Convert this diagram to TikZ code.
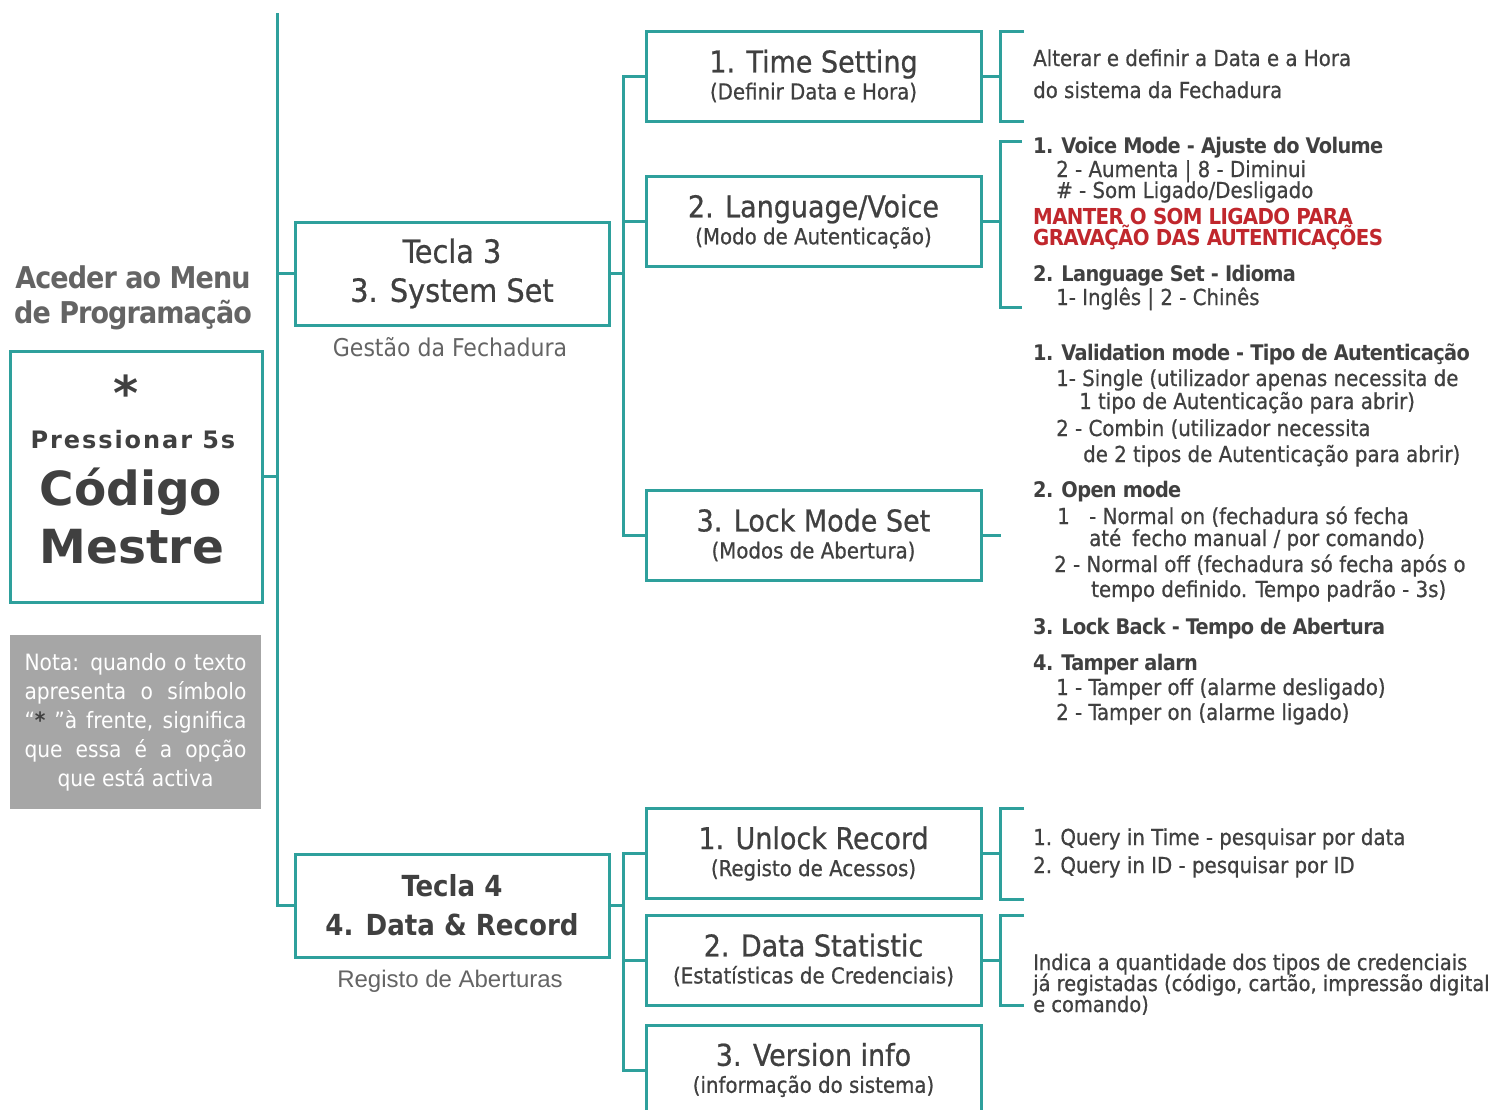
\documentclass[tikz,border=0pt]{standalone}
\usepackage{fontspec}
\setmainfont{DejaVu Sans Condensed}
\newfontfamily\medfont[FakeBold=0.7]{DejaVu Sans Condensed}
\newfontfamily\verdana{DejaVu Sans}
\newfontfamily\verdanasp[LetterSpace=8]{DejaVu Sans}
\newfontfamily\tight[LetterSpace=-3]{DejaVu Sans Condensed}
\newfontfamily\arial{Liberation Sans}
\usetikzlibrary{positioning}

\newcommand{\boxmain}{\fontsize{30}{30}\selectfont}
\newcommand{\boxsub}{\fontsize{22}{26}\selectfont}

\begin{document}
\begin{tikzpicture}[x=1pt,y=-1pt]
    \definecolor{myteal}{RGB}{46,160,156}
    \definecolor{mygray}{RGB}{64,64,64}
    \definecolor{mylight}{RGB}{100,100,100}
    \definecolor{mynote}{RGB}{166,166,166}
    \definecolor{myred}{RGB}{192,39,45}

    \tikzstyle{link}=[draw=myteal,line width=3pt]  % 连接线
    \tikzstyle{keybox}=[rectangle,draw=myteal,line width=3pt,minimum width=314pt,minimum height=103pt,inner sep=0pt,align=center,text=mygray,font=\medfont\fontsize{32}{39}\selectfont]  % 按键框
    \tikzstyle{subbox}=[rectangle,draw=myteal,line width=3pt,minimum width=335pt,minimum height=90pt,inner sep=0pt,align=center,text=mygray,font=\medfont\fontsize{30}{27}\selectfont]  % 子菜单框
    \tikzstyle{desc}=[anchor=base west,inner sep=0pt,text=mygray,font=\medfont\fontsize{22}{22}\selectfont]  % 说明文字
    \tikzstyle{head}=[anchor=base west,inner sep=0pt,text=mygray,font=\tight\fontsize{21.5}{21.5}\selectfont\bfseries]  % 说明标题
    \tikzstyle{alert}=[anchor=base west,inner sep=0pt,text=myred,font=\tight\fontsize{22}{22}\selectfont\bfseries]

    \useasboundingbox (0,0) rectangle (1497,1109);

    % 左侧
    \node[text=mylight,align=center,font=\tight\fontsize{30}{35}\selectfont\bfseries] (title) at (133,298) {Aceder ao Menu\\de Programação};
    \node[rectangle,draw=myteal,line width=3pt,minimum width=252pt,minimum height=251pt] (mestre) at (136,476.5) {};
    \node[text=mygray,font=\verdana\bfseries\fontsize{48}{48}\selectfont] (star) at (126,393) {*};
    \node[text=mygray,font=\verdanasp\bfseries\fontsize{24}{24}\selectfont,anchor=base] (press) at (133,448) {Pressionar 5s};
    \node[text=mygray,font=\verdana\bfseries\fontsize{47}{47}\selectfont,anchor=base] (codigo) at (131,505) {Código};
    \node[text=mygray,font=\verdana\bfseries\fontsize{47}{47}\selectfont,anchor=base] (mestretxt) at (132,563) {Mestre};
    \node[fill=mynote,minimum width=251pt,minimum height=174pt,inner sep=0pt,text=white,align=center,font=\fontsize{22.5}{29}\selectfont] (nota) at (135.5,722) {\makebox[222pt][s]{Nota: quando o texto}\\\makebox[222pt][s]{apresenta o símbolo}\\\makebox[222pt][s]{“\textcolor{mygray}{\bfseries*} ”à frente, significa}\\\makebox[222pt][s]{que essa é a opção}\\que está activa};

    % 按键
    \node[keybox] (tecla3) at (452,273.5) {Tecla 3\\3. System Set};
    \node[text=mylight,font=\fontsize{24.5}{24.5}\selectfont] (gestao) at (450,347) {Gestão da Fechadura};
    \node[keybox,font=\fontsize{29}{39}\selectfont\bfseries] (tecla4) at (452,905.5) {Tecla 4\\4. Data \& Record};
    \node[text=mylight,font=\arial\fontsize{24}{24}\selectfont] (registo) at (450,981) {Registo de Aberturas};

    % 子菜单
    \node[subbox] (time) at (813.5,76) {\boxmain 1. Time Setting\\\boxsub (Definir Data e Hora)};
    \node[subbox] (voice) at (813.5,221.5) {\boxmain 2. Language/Voice\\\boxsub (Modo de Autenticação)};
    \node[subbox] (lock) at (813.5,535) {\boxmain 3. Lock Mode Set\\\boxsub (Modos de Abertura)};
    \node[subbox] (unlock) at (813.5,853.5) {\boxmain 1. Unlock Record\\\boxsub (Registo de Acessos)};
    \node[subbox] (stat) at (813.5,960) {\boxmain 2. Data Statistic\\\boxsub (Estatísticas de Credenciais)};
    \node[subbox] (version) at (813.5,1070) {\boxmain 3. Version info\\\boxsub (informação do sistema)};

    % 说明
    \node[desc] (t1) at (1033,66) {Alterar e definir a Data e a Hora};
    \node[desc] (t2) at (1033,98) {do sistema da Fechadura};

    \node[head] (v1) at (1033,153) {1. Voice Mode - Ajuste do Volume};
    \node[desc] (v2) at (1056,177) {2 - Aumenta | 8 - Diminui};
    \node[desc] (v3) at (1056,198) {\# - Som Ligado/Desligado};
    \node[alert] (v4) at (1033,224) {MANTER O SOM LIGADO PARA};
    \node[alert] (v5) at (1033,245) {GRAVAÇÃO DAS AUTENTICAÇÕES};
    \node[head] (v6) at (1033,281) {2. Language Set - Idioma};
    \node[desc] (v7) at (1056,305) {1- Inglês | 2 - Chinês};

    \node[head] (m1) at (1033,360) {1. Validation mode - Tipo de Autenticação};
    \node[desc] (m2) at (1056,386) {1- Single (utilizador apenas necessita de};
    \node[desc] (m3) at (1079,409) {1 tipo de Autenticação para abrir)};
    \node[desc] (m4) at (1056,436) {2 - Combin (utilizador necessita};
    \node[desc] (m5) at (1083,462) {de 2 tipos de Autenticação para abrir)};
    \node[head] (m6) at (1033,497) {2. Open mode};
    \node[desc] (m7) at (1057,524) {1};
    \node[desc] (m8) at (1089,524) {- Normal on (fechadura só fecha};
    \node[desc] (m9) at (1089,546) {até\enspace fecho manual / por comando)};
    \node[desc] (m10) at (1054,572) {2 - Normal off (fechadura só fecha após o};
    \node[desc] (m11) at (1091,597) {tempo definido. Tempo padrão - 3s)};
    \node[head] (m12) at (1033,634) {3. Lock Back - Tempo de Abertura};
    \node[head] (m13) at (1033,670) {4. Tamper alarn};
    \node[desc] (m14) at (1056,695) {1 - Tamper off (alarme desligado)};
    \node[desc] (m15) at (1056,720) {2 - Tamper on (alarme ligado)};

    \node[desc] (q1) at (1033,845) {1. Query in Time - pesquisar por data};
    \node[desc] (q2) at (1033,873) {2. Query in ID - pesquisar por ID};
    \node[desc,font=\medfont\fontsize{21.6}{21.6}\selectfont] (s1) at (1033,970) {Indica a quantidade dos tipos de credenciais};
    \node[desc,font=\medfont\fontsize{21.6}{21.6}\selectfont] (s2) at (1033,991) {já registadas (código, cartão, impressão digital};
    \node[desc,font=\medfont\fontsize{21.6}{21.6}\selectfont] (s3) at (1033,1012) {e comando)};

    % 开始画线
    \coordinate (trunk) at (277,13);
    \coordinate (sysbus) at (623,0);
    \coordinate (recbus) at (623,0);
    \draw[link] (trunk) |- (tecla4.west);
    \draw[link] (mestre.east) -- (mestre.east -| trunk);
    \draw[link] (tecla3.west) -- (tecla3.west -| trunk);

    \draw[link] (tecla3.east) -- (tecla3.east -| sysbus);
    \draw[link] (time.west) -| (sysbus |- lock.west) -- (lock.west);
    \draw[link] (voice.west) -- (voice.west -| sysbus);

    \draw[link] (tecla4.east) -- (tecla4.east -| recbus);
    \draw[link] (unlock.west) -| (recbus |- version.west) -- (version.west);
    \draw[link] (stat.west) -- (stat.west -| recbus);

    % 右侧括号
    \coordinate (tb1) at (1024,31);
    \coordinate (tb2) at (1024,121);
    \coordinate (vb1) at (1022,141);
    \coordinate (vb2) at (1022,307);
    \coordinate (ub1) at (1024,808);
    \coordinate (ub2) at (1024,899);
    \coordinate (sb1) at (1024,915);
    \coordinate (sb2) at (1024,1005);
    \draw[link] (time.east) -- ++(18,0);
    \draw[link] (tb1) -| ([xshift=18pt]time.east) |- (tb2);
    \draw[link] (voice.east) -- ++(18,0);
    \draw[link] (vb1) -| ([xshift=18pt]voice.east) |- (vb2);
    \draw[link] (lock.east) -- ++(18,0);
    \draw[link] (unlock.east) -- ++(18,0);
    \draw[link] (ub1) -| ([xshift=18pt]unlock.east) |- (ub2);
    \draw[link] (stat.east) -- ++(18,0);
    \draw[link] (sb1) -| ([xshift=18pt]stat.east) |- (sb2);
\end{tikzpicture}
\end{document}
